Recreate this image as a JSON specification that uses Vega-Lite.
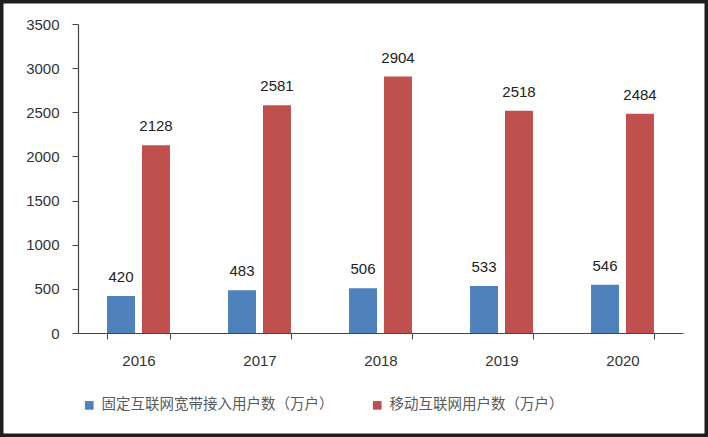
{
  "$schema": "https://vega.github.io/schema/vega-lite/v6.json",
  "width": 708,
  "height": 437,
  "padding": 0,
  "autosize": {"type": "none"},
  "background": "white",
  "view": {"stroke": "#1e1e1e", "strokeWidth": 7, "fill": "white"},
  "config": {
    "font": "Liberation Sans",
    "axis": {"grid": false, "domainColor": "#444444", "tickColor": "#444444", "labelColor": "#333333", "labelFont": "Liberation Sans", "labelFontSize": 15, "title": null}
  },
  "data": {
    "values": [
      {"year": "2016", "series": "固定互联网宽带接入用户数（万户）", "value": 420},
      {"year": "2016", "series": "移动互联网用户数（万户）", "value": 2128},
      {"year": "2017", "series": "固定互联网宽带接入用户数（万户）", "value": 483},
      {"year": "2017", "series": "移动互联网用户数（万户）", "value": 2581},
      {"year": "2018", "series": "固定互联网宽带接入用户数（万户）", "value": 506},
      {"year": "2018", "series": "移动互联网用户数（万户）", "value": 2904},
      {"year": "2019", "series": "固定互联网宽带接入用户数（万户）", "value": 533},
      {"year": "2019", "series": "移动互联网用户数（万户）", "value": 2518},
      {"year": "2020", "series": "固定互联网宽带接入用户数（万户）", "value": 546},
      {"year": "2020", "series": "移动互联网用户数（万户）", "value": 2484}
    ]
  },
  "encoding": {
    "x": {
      "field": "year", "type": "nominal",
      "scale": {"range": [78, 683], "paddingInner": 0.48, "paddingOuter": 0.24},
      "axis": {"orient": "bottom", "offset": -104, "labelAngle": 0, "tickBand": "extent", "tickSize": 6, "labelPadding": 14, "domainWidth": 1.2}
    },
    "xOffset": {
      "field": "series", "type": "nominal",
      "sort": ["固定互联网宽带接入用户数（万户）", "移动互联网用户数（万户）"],
      "scale": {"paddingInner": 0.2}
    },
    "y": {
      "field": "value", "type": "quantitative",
      "scale": {"domain": [0, 3500], "range": [333, 24], "nice": false},
      "axis": {"orient": "left", "offset": -78, "format": "d", "values": [0, 500, 1000, 1500, 2000, 2500, 3000, 3500], "tickSize": 6, "labelPadding": 13, "domainWidth": 1.2}
    }
  },
  "layer": [
    {
      "mark": {"type": "bar"},
      "encoding": {
        "color": {
          "field": "series", "type": "nominal",
          "scale": {"domain": ["固定互联网宽带接入用户数（万户）", "移动互联网用户数（万户）"], "range": ["#4F81BD", "#C0504D"]},
          "legend": {
            "orient": "none", "legendX": 82, "legendY": 398, "direction": "horizontal", "title": null,
            "symbolType": "square", "symbolSize": 75, "symbolStrokeWidth": 0,
            "labelFont": "Noto Sans CJK SC", "labelFontSize": 14.5, "labelColor": "#5a5a5a", "labelLimit": 0,
            "columnPadding": 36, "labelOffset": 5, "padding": 0
          }
        }
      }
    },
    {
      "mark": {"type": "text", "baseline": "bottom", "dy": -11, "font": "Liberation Sans", "fontSize": 15, "color": "#222222"},
      "encoding": {"text": {"field": "value", "type": "quantitative"}}
    }
  ]
}
